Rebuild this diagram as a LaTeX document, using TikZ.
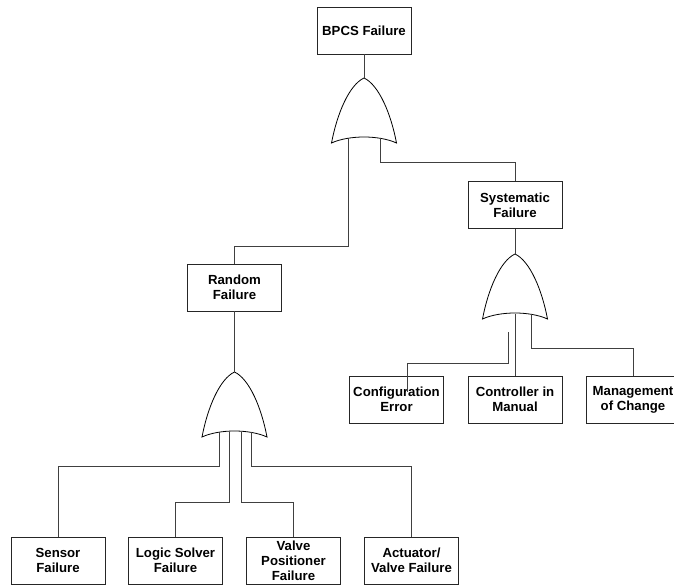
\documentclass[tikz,border=0pt]{standalone}
\usepackage{fontspec}
\setmainfont{Liberation Sans}
\usetikzlibrary{calc}
\begin{document}
\begin{tikzpicture}[x=1pt,y=-1pt,
  evbox/.style={draw=black!85,line width=0.7pt,minimum width=94pt,minimum height=47pt,inner sep=0pt,align=center,
    font=\fontsize{13.2}{15}\selectfont\bfseries},
  conn/.style={draw=black!75,line width=0.75pt},
  gateline/.style={draw=black,line width=0.8pt},
  orgate/.pic={\draw[gateline] (-32.5,65) .. controls (-27,36) and (-15,7) .. (0,0)
     .. controls (15,7) and (27,36) .. (32.5,65)
     .. controls (15,57) and (-15,57) .. cycle;}]
\useasboundingbox (0,0) rectangle (674,585);
% events
\node[evbox] (bpcs) at (364,30.5) {BPCS Failure};
\node[evbox] (sys) at (515,205) {Systematic\\Failure};
\node[evbox] (rand) at (234.5,287.5) {Random\\Failure};
\node[evbox] (cfg) at (396.5,399.5) {Configuration\\Error};
\node[evbox] (ctrl) at (515,399.5) {Controller in\\Manual};
\node[evbox] (mgmt) at (633,399.5) {Management\\of Change};
\node[evbox] (sensor) at (58,560.5) {Sensor\\Failure};
\node[evbox] (logic) at (175.5,560.5) {Logic Solver\\Failure};
\node[evbox] (valve) at (293.5,560.5) {Valve\\Positioner\\Failure};
\node[evbox] (act) at (411.5,560.5) {Actuator/\\Valve Failure};
% gates
\coordinate (tg) at (364,78);
\coordinate (rg) at (234.5,372);
\coordinate (sg) at (515,254);
\pic at (tg) {orgate};
\pic at (rg) {orgate};
\pic at (sg) {orgate};
% connectors
\draw[conn] (bpcs.south) -- (tg);
\draw[conn] ($(tg)+(-16,60)$) -- ++(0,108) -| (rand.north);
\draw[conn] ($(tg)+(16,60)$) -- ++(0,24) -| (sys.north);
\draw[conn] (rand.south) -- (rg);
\draw[conn] ($(rg)+(-15.5,60)$) -- ++(0,34) -| (sensor.north);
\draw[conn] ($(rg)+(-5.5,60)$) -- ++(0,70) -| (logic.north);
\draw[conn] ($(rg)+(6.5,60)$) -- ++(0,70) -| (valve.north);
\draw[conn] ($(rg)+(16.5,60)$) -- ++(0,34) -| (act.north);
\draw[conn] (sys.south) -- (sg);
\coordinate (cfgstart) at (508,332);
\coordinate (cfgend) at (407,392);
\draw[conn] (cfgstart) -- ++(0,31) -| (cfgend);
\draw[conn] ($(sg)+(0,60)$) -- (ctrl.north);
\draw[conn] ($(sg)+(16,60)$) -- ++(0,34) -| (mgmt.north);
\end{tikzpicture}
\end{document}
